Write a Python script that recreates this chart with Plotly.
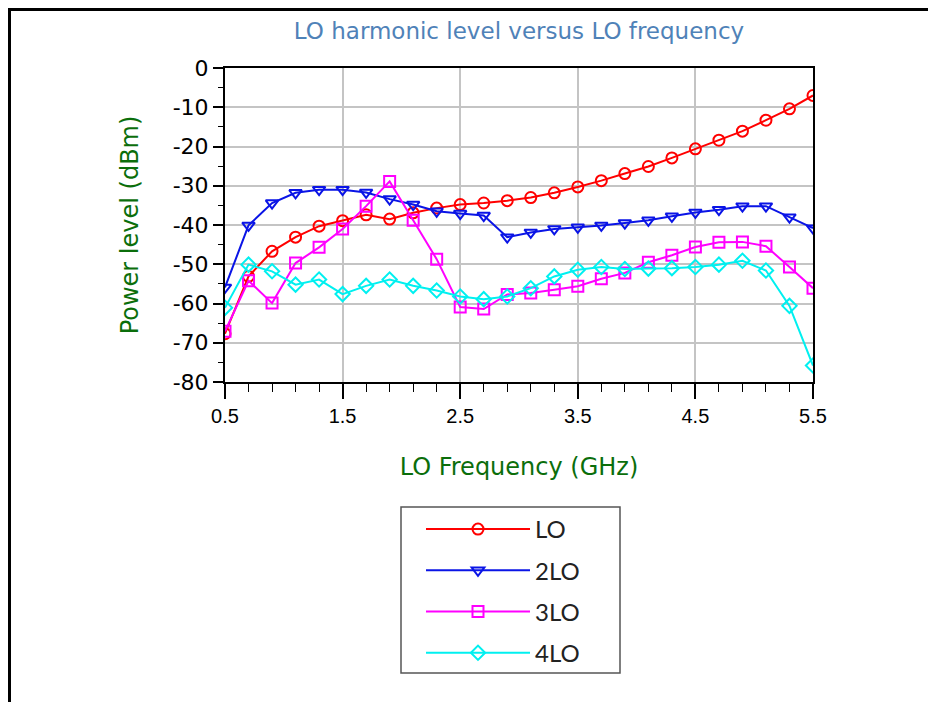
import plotly.graph_objects as go

freq = [0.5, 0.7, 0.9, 1.1, 1.3, 1.5, 1.7, 1.9, 2.1, 2.3, 2.5, 2.7, 2.9,
        3.1, 3.3, 3.5, 3.7, 3.9, 4.1, 4.3, 4.5, 4.7, 4.9, 5.1, 5.3, 5.5]

lo = [-67.7, -53.1, -46.7, -43.1, -40.3, -38.9, -37.4, -38.5, -36.9, -35.7, -34.8, -34.4, -33.8,
      -33.0, -31.8, -30.3, -28.7, -26.9, -25.1, -22.9, -20.6, -18.4, -16.1, -13.3, -10.4, -7.0]
lo2 = [-55.9, -40.1, -34.4, -31.8, -31.0, -31.0, -31.7, -33.4, -34.8, -36.5, -37.1, -37.6, -43.1,
       -41.9, -41.0, -40.6, -40.1, -39.5, -38.8, -37.8, -36.8, -36.1, -35.2, -35.2, -38.0, -40.8]
lo3 = [-67.1, -54.2, -59.9, -49.7, -45.7, -41.0, -35.2, -28.9, -38.8, -48.7, -60.9, -61.4, -57.7,
       -57.3, -56.5, -55.6, -53.7, -52.2, -49.5, -47.7, -45.6, -44.4, -44.3, -45.4, -50.7, -56.1]
lo4 = [-61.1, -50.1, -51.8, -55.2, -53.9, -57.6, -55.5, -53.9, -55.5, -56.7, -58.2, -58.9, -58.2,
       -56.1, -53.1, -51.4, -50.7, -51.2, -51.1, -51.0, -50.7, -50.1, -49.1, -51.6, -60.6, -75.8]

names = ["LO", "2LO", "3LO", "4LO"]
colors = ["#ff0000", "#0a14e6", "#ff00ff", "#00f0f0"]
symbols = ["circle-open", "triangle-down-open", "square-open", "diamond-open"]
series = [lo, lo2, lo3, lo4]

ytick_vals = [0, -10, -20, -30, -40, -50, -60, -70, -80]
ytick_text = ["0", "-10", "-20", "-30", "-40", "-50", "-60", "-70", "-80"]
xtick_vals = [0.5, 1.5, 2.5, 3.5, 4.5, 5.5]
xtick_text = ["0.5", "1.5", "2.5", "3.5", "4.5", "5.5"]

fig = go.Figure()
for i, (n, c, s, ys) in enumerate(zip(names, colors, symbols, series)):
    fig.add_trace(go.Scatter(
        x=freq, y=ys, name=n, mode="lines+markers",
        line=dict(color=c, width=2),
        marker=dict(symbol=s, size=11, color=c, line=dict(color=c, width=2)),
        legendgroup=n,
    ))

OFF = 8  # page body margin
W, H = 936 - OFF, 711 - 2 * OFF
L, R, T, B = 225 - OFF, 813 - OFF, 68 - OFF, 382 - OFF
pw, ph = R - L, B - T

def px(x):
    return (x - OFF - L) / pw

def py(y):
    return (B - (y - OFF)) / ph

fig.update_layout(
    width=W, height=H,
    margin=dict(l=L, r=W - R, t=T, b=H - B, pad=0),
    paper_bgcolor="white", plot_bgcolor="white",
    font=dict(family="Liberation Sans, Arial, sans-serif", color="black"),
    title=dict(text="LO harmonic level versus LO frequency",
               font=dict(size=23, color="#4f82b8", family="DejaVu Sans, sans-serif"),
               xref="container", x=(519 - OFF) / W, xanchor="center",
               yref="container", y=1 - (31 - OFF) / H, yanchor="middle"),
    showlegend=True,
    legend=dict(x=px(421), y=py(507), xanchor="left", yanchor="top",
                borderwidth=0, bgcolor="rgba(0,0,0,0)",
                font=dict(size=24, family="Lato, Noto Sans, sans-serif", color="#222222"),
                itemwidth=104, tracegroupgap=7, traceorder="grouped"),
    xaxis=dict(range=[0.5, 5.5], tickvals=xtick_vals, ticktext=xtick_text,
               showgrid=True, gridcolor="#c4c4c4", gridwidth=1.5,
               showline=True, linecolor="black", linewidth=2, mirror=True,
               ticks="outside", ticklen=15, tickwidth=1.5, tickcolor="black",
               tickfont=dict(size=20, family="Liberation Sans, Arial"),
               minor=dict(tick0=0.5, dtick=0.2, ticks="outside", ticklen=8, tickwidth=1, tickcolor="black", showgrid=False),
               zeroline=False,
               title=dict(text="LO Frequency (GHz)", standoff=32,
                          font=dict(size=24, color="#0b6e0b", family="DejaVu Sans, sans-serif"))),
    yaxis=dict(range=[-80, 0], tickvals=ytick_vals, ticktext=ytick_text,
               showgrid=True, gridcolor="#c4c4c4", gridwidth=1.5,
               showline=True, linecolor="black", linewidth=2, mirror=True,
               ticks="outside", ticklen=10, tickwidth=1.5, tickcolor="black",
               tickfont=dict(size=22, family="DejaVu Sans, sans-serif"),
               minor=dict(tick0=0, dtick=5, ticks="outside", ticklen=5, tickwidth=1, tickcolor="black", showgrid=False),
               zeroline=False,
               title=dict(text="Power level (dBm)", standoff=27,
                          font=dict(size=24, color="#0b6e0b", family="DejaVu Sans, sans-serif"))),
)

# legend frame
fig.add_shape(type="rect", xref="paper", yref="paper",
              x0=px(401), x1=px(620), y0=py(507), y1=py(673),
              line=dict(color="#555555", width=1.5), fillcolor="rgba(0,0,0,0)")

# outer frame lines (left and top), kept inside the figure
fig.add_shape(type="line", xref="paper", yref="paper",
              x0=px(OFF + 1.5), x1=px(OFF + 1.5), y0=py(OFF + 1), y1=py(OFF + H - 1), line=dict(color="black", width=3))
fig.add_shape(type="line", xref="paper", yref="paper",
              x0=px(OFF), x1=px(OFF + W - 1), y0=py(OFF + 1.5), y1=py(OFF + 1.5), line=dict(color="black", width=3))

fig.write_html("out.html",
               post_script="document.documentElement.style.overflow='hidden';document.body.style.overflow='hidden';")
